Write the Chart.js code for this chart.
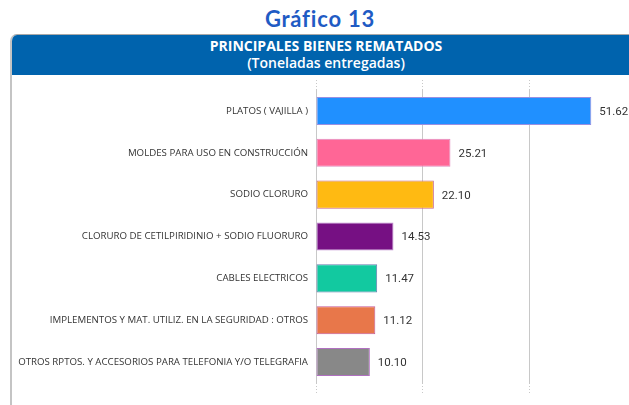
<!DOCTYPE html>
<html>
<head>
<meta charset="utf-8">
<script src="https://cdn.jsdelivr.net/npm/chart.js@4"></script>
<style>
  html, body { margin: 0; padding: 0; width: 629px; height: 405px; overflow: hidden; background: #fff; }
  #title { position: absolute; left: 0; top: 5px; width: 640px; text-align: center;
           font: bold 22px Lato, sans-serif; letter-spacing: 0.8px; color: #1f5bc4; }
  #panel { position: absolute; left: 10px; top: 34px; width: 660px; height: 400px;
           border-top: 1px solid #a8a8a8; border-left: 2px solid #c4c4c4; border-top-left-radius: 7px; overflow: hidden; }
  #head { background: #0063ad; height: 40px; color: #fff; text-align: center; font-family: "Open Sans", sans-serif; padding-right: 32px; }
  #head .t1 { font-weight: bold; font-size: 14px; padding-top: 3px; line-height: 16px; }
  #head .t2 { font-weight: 600; font-size: 14px; line-height: 18px; }
  #wrap { position: absolute; left: 0; top: 0; width: 640px; height: 405px; }
</style>
</head>
<body>
<div id="title">Gráfico 13</div>
<div id="panel">
  <div id="head">
    <div class="t1">PRINCIPALES BIENES REMATADOS</div>
    <div class="t2">(Toneladas entregadas)</div>
  </div>
</div>
<div id="wrap"><canvas id="myChart"></canvas></div>
<script>
var categories = [
  "PLATOS ( VAJILLA )",
  "MOLDES PARA USO EN CONSTRUCCIÓN",
  "SODIO CLORURO",
  "CLORURO DE CETILPIRIDINIO + SODIO FLUORURO",
  "CABLES ELECTRICOS",
  "IMPLEMENTOS Y MAT. UTILIZ. EN LA SEGURIDAD : OTROS",
  "OTROS RPTOS. Y ACCESORIOS PARA TELEFONIA Y/O TELEGRAFIA"
];
var toneladas = [51.62, 25.21, 22.10, 14.53, 11.47, 11.12, 10.10];
var xTicks = [0, 20, 40, 60];

var fills = ['#2090ff', '#ff6696', '#ffba12', '#761083', '#12c9a0', '#e8774a', '#888888'];
var borders = ['#9a8fe0', '#e08cc0', '#c8688a', '#c08ad0', '#6a7fb0', '#c45a9a', '#b070c0'];

var valueLabels = {
  id: 'valueLabels',
  afterDatasetsDraw: function(chart) {
    var ctx = chart.ctx;
    var meta = chart.getDatasetMeta(0);
    ctx.save();
    ctx.font = '400 11.5px Roboto, sans-serif';
    ctx.fillStyle = '#333';
    ctx.textAlign = 'left';
    ctx.textBaseline = 'middle';
    meta.data.forEach(function(bar, i) {
      ctx.fillText(toneladas[i].toFixed(2), bar.x + 8, bar.y + 1);
    });
    ctx.restore();
  }
};

var gridDots = {
  color: '#c8c8c8',
  borderDash: [1, 2],
  tickBorderDash: [1, 2],
  tickColor: '#c8c8c8'
};

new Chart(document.getElementById('myChart'), {
  type: 'bar',
  data: {
    labels: categories,
    datasets: [{
      data: toneladas,
      backgroundColor: fills,
      borderColor: borders,
      borderWidth: 1,
      borderSkipped: false,
      barPercentage: 0.67,
      categoryPercentage: 1
    }]
  },
  options: {
    indexAxis: 'y',
    responsive: true,
    maintainAspectRatio: false,
    animation: false,
    layout: { padding: { left: 0, right: 4, top: 80, bottom: 10 } },
    plugins: { legend: { display: false }, tooltip: { enabled: false } },
    scales: {
      x: {
        position: 'bottom',
        min: 0, max: 60,
        afterBuildTicks: function(s) { s.ticks = xTicks.map(function(v) { return { value: v }; }); },
        ticks: { display: false },
        border: { display: false },
        grid: Object.assign({ tickLength: 12 }, gridDots)
      },
      x2: {
        position: 'top',
        axis: 'x',
        min: 0, max: 60,
        afterBuildTicks: function(s) { s.ticks = xTicks.map(function(v) { return { value: v }; }); },
        ticks: { display: false },
        border: { display: false },
        grid: Object.assign({ tickLength: 10, drawOnChartArea: false }, gridDots)
      },
      y: {
        afterFit: function(s) { s.width = 316; },
        border: { display: false },
        grid: { display: false, drawTicks: false },
        ticks: { padding: 8, color: '#333', font: { family: 'Open Sans', size: 9.7, weight: '500' } }
      }
    }
  },
  plugins: [valueLabels]
});
</script>
</body>
</html>
